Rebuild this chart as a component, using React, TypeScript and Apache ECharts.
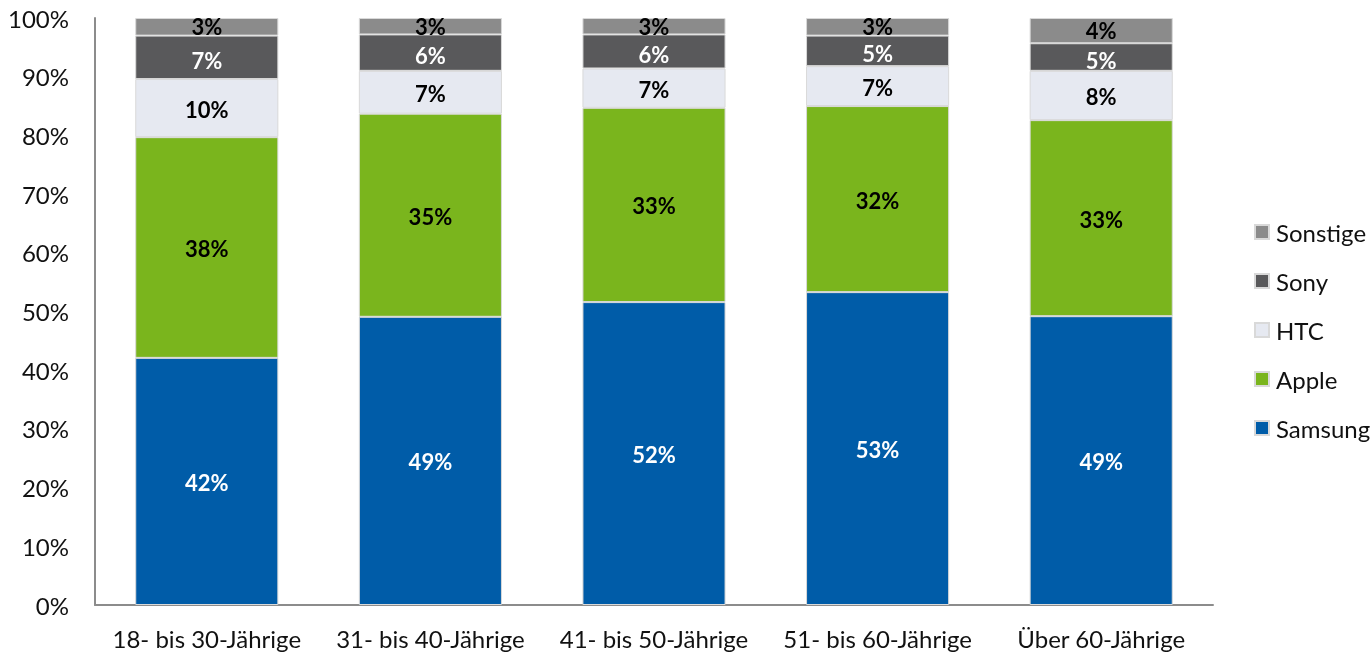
import React, { useEffect, useRef } from "react";
import * as echarts from "echarts";

const categories = ["18- bis 30-Jährige", "31- bis 40-Jährige", "41- bis 50-Jährige", "51- bis 60-Jährige", "Über 60-Jährige"];
const samsung = [42.1, 49.1, 51.6, 53.3, 49.2];
const apple = [37.6, 34.6, 33.1, 31.7, 33.4];
const htc = [9.9, 7.3, 6.7, 6.8, 8.4];
const sony = [7.4, 6.2, 5.8, 5.2, 4.7];
const sonstige = [3.0, 2.8, 2.8, 3.0, 4.3];
const yTicks = [0, 10, 20, 30, 40, 50, 60, 70, 80, 90, 100];

const FONT = "Lato";

export default function App() {
  const ref = useRef<HTMLDivElement>(null);
  useEffect(() => {
    if (!ref.current) return;
    const chart = echarts.init(ref.current, undefined, { renderer: "svg" });
    const mk = (name: string, data: number[], color: string, labelColor: string, dy: number) => ({
      name,
      type: "bar",
      stack: "total",
      data,
      barWidth: "64%",
      itemStyle: { color, borderColor: "#d9d9d9", borderWidth: 1 },
      label: {
        show: true,
        position: "inside",
        offset: [0, dy],
        color: labelColor,
        fontFamily: FONT,
        fontWeight: "bold",
        fontSize: 22,
        lineHeight: 17,
        formatter: (p: any) => Math.round(p.value) + "%",
      },
    });
    chart.setOption({
      animation: false,
      textStyle: { fontFamily: FONT },
      grid: { left: 95, right: 157, top: 18, bottom: 48, containLabel: false },
      legend: {
        orient: "vertical",
        left: 1254,
        top: 220,
        padding: 0,
        itemWidth: 14,
        itemHeight: 14,
        itemGap: 25,
        icon: "rect",
        data: ["Sonstige", "Sony", "HTC", "Apple", "Samsung"],
        textStyle: { fontFamily: FONT, fontSize: 24, color: "#111", padding: [0, 0, 0, 2] },
      },
      xAxis: {
        type: "category",
        data: categories,
        axisLine: { lineStyle: { color: "#8c8c8c", width: 2 } },
        axisTick: { show: false },
        axisLabel: { interval: 0, fontFamily: FONT, fontSize: 24, color: "#111", margin: 21 },
      },
      yAxis: {
        type: "value",
        min: yTicks[0],
        max: yTicks[yTicks.length - 1],
        interval: 10,
        axisLine: { show: true, lineStyle: { color: "#8c8c8c", width: 2 } },
        axisTick: { show: false },
        splitLine: { show: false },
        axisLabel: { fontFamily: FONT, fontSize: 24, color: "#111", margin: 26, formatter: "{value}%" },
      },
      series: [
        mk("Samsung", samsung, "#005ca8", "#ffffff", 1),
        mk("Apple", apple, "#7ab51d", "#000000", 1),
        mk("HTC", htc, "#e6e9f1", "#000000", 1),
        mk("Sony", sony, "#59595b", "#ffffff", 3),
        mk("Sonstige", sonstige, "#8b8b8b", "#000000", 0),
      ],
    });
    return () => chart.dispose();
  }, []);
  return <div ref={ref} style={{ position: "fixed", left: 0, top: 0, width: 1370, height: 653 }} />;
}
